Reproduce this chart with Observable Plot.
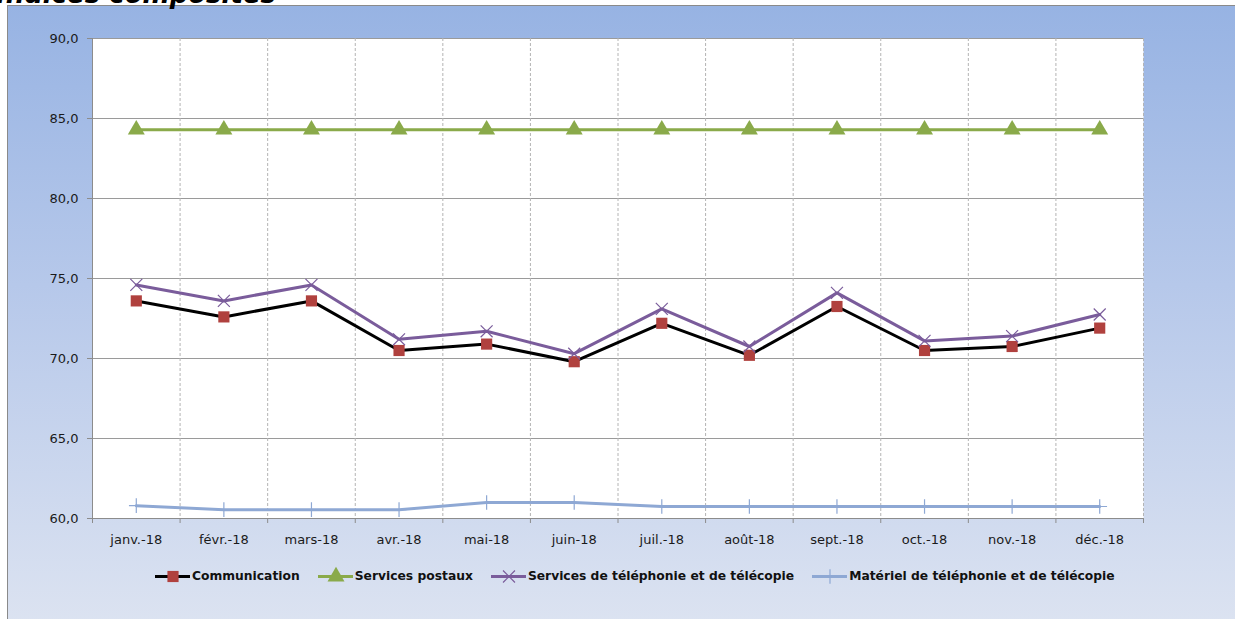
<!DOCTYPE html>
<html>
<head>
<meta charset="utf-8">
<script src="https://cdn.jsdelivr.net/npm/d3@7"></script>
<script src="https://cdn.jsdelivr.net/npm/@observablehq/plot@0.6"></script>
<style>
  html, body { margin: 0; padding: 0; background: #ffffff; width: 1235px; height: 619px; overflow: hidden; }
  #frame { position: absolute; left: 7px; top: 5px; width: 1240px; height: 620px;
    border-left: 1px solid #8a8a8a; border-top: 1px solid #8a8a8a;
    background: linear-gradient(to bottom, #97B3E3 0%, #B6C8EA 45%, #DCE3F1 100%); }
  #title { position: absolute; left: -4px; top: -19px; font-family: "DejaVu Sans", sans-serif; font-weight: bold;
    font-style: italic; font-size: 26px; line-height: 26px; color: #000; z-index: 5; white-space: nowrap; }
  #chart { position: absolute; left: 0; top: 0; }
  #legend { position: absolute; left: 155px; top: 569px; display: flex; align-items: center; gap: 18px;
    font-family: "DejaVu Sans", sans-serif; font-weight: bold; font-size: 12.3px; color: #111; white-space: nowrap; }
  .item { display: flex; align-items: center; }
  .item svg { margin-right: 2px; }
</style>
</head>
<body>
<div id="frame"></div>
<div id="title">Indices composites</div>
<div id="chart"></div>
<div id="legend"></div>
<script>
const months = ["janv.-18", "févr.-18", "mars-18", "avr.-18", "mai-18", "juin-18",
                "juil.-18", "août-18", "sept.-18", "oct.-18", "nov.-18", "déc.-18"];
const communication = [73.6, 72.6, 73.6, 70.5, 70.9, 69.8, 72.2, 70.2, 73.25, 70.5, 70.75, 71.9];
const servicesPostaux = [84.3, 84.3, 84.3, 84.3, 84.3, 84.3, 84.3, 84.3, 84.3, 84.3, 84.3, 84.3];
const servicesTelephonie = [74.6, 73.6, 74.6, 71.2, 71.7, 70.3, 73.1, 70.75, 74.1, 71.1, 71.4, 72.75];
const materielTelephonie = [60.8, 60.55, 60.55, 60.55, 61.0, 61.0, 60.75, 60.75, 60.75, 60.75, 60.75, 60.75];
const yTicks = [60, 65, 70, 75, 80, 85, 90];

const seriesDefs = [
  {name: "Communication", values: communication, line: "#000000", mark: "#B0413E", symbol: "square", r: 6.3, markStroke: null},
  {name: "Services postaux", values: servicesPostaux, line: "#8AAA4A", mark: "#8AAA4A", symbol: "triangle", r: 6.3, markStroke: null},
  {name: "Services de téléphonie et de télécopie", values: servicesTelephonie, line: "#7A5C9B", mark: "#7A5C9B", symbol: "times", r: 5.5, markStroke: "#7A5C9B"},
  {name: "Matériel de téléphonie et de télécopie", values: materielTelephonie, line: "#8EA8D4", mark: "#8EA8D4", symbol: "plus", r: 4.8, markStroke: "#8EA8D4"}
];

const rows = seriesDefs.flatMap(s => s.values.map((v, i) => ({series: s.name, i: i + 0.5, value: v})));

const boundaries = d3.range(0, 13);
const centers = months.map((m, i) => i + 0.5);

const marks = [
  Plot.frame({fill: "white", stroke: null}),
  Plot.ruleY(yTicks.filter(d => d > 60), {y: d => d, stroke: "#9a9a9a", strokeWidth: 1}),
  Plot.ruleX(boundaries.filter(d => d > 0), {x: d => d, stroke: "#b4b4b4", strokeDasharray: "3,2", strokeWidth: 1}),
  Plot.ruleX([0], {stroke: "#8c8c8c"}),
  Plot.ruleY([60], {stroke: "#8c8c8c"}),
  Plot.axisY({ticks: yTicks, tickFormat: d => d.toFixed(1).replace(".", ","), tickSize: 5, tickPadding: 9,
              stroke: "#8c8c8c", fill: "#1a1a1a", fontSize: 13, label: null}),
  Plot.axisX({ticks: boundaries, tickSize: 5, tickFormat: () => "", stroke: "#8c8c8c", label: null}),
  Plot.axisX({ticks: centers, tickSize: 0, tickPadding: 16, tickFormat: d => months[Math.floor(d)],
              fill: "#1a1a1a", fontSize: 13, label: null})
];

for (const s of seriesDefs) {
  const data = rows.filter(r => r.series === s.name);
  marks.push(Plot.line(data, {x: "i", y: "value", stroke: s.line, strokeWidth: 3, strokeLinejoin: "round"}));
}
for (const s of seriesDefs) {
  const data = rows.filter(r => r.series === s.name);
  if (s.markStroke) {
    marks.push(Plot.dot(data, {x: "i", y: "value", symbol: s.symbol, r: s.r, stroke: s.markStroke, strokeWidth: 1.2, fill: "none"}));
  } else {
    marks.push(Plot.dot(data, {x: "i", y: "value", symbol: s.symbol, r: s.r, fill: s.mark, stroke: null}));
  }
}

const chart = Plot.plot({
  width: 1235,
  height: 560,
  marginLeft: 92,
  marginRight: 92,
  marginTop: 38,
  marginBottom: 42,
  style: {background: "transparent", fontFamily: "DejaVu Sans, sans-serif", fontSize: "13px", color: "#1a1a1a"},
  x: {type: "linear", domain: [0, 12], axis: null},
  y: {domain: [60, 90], axis: null},
  marks
});
document.getElementById("chart").appendChild(chart);

// Legend
const legend = document.getElementById("legend");
for (const s of seriesDefs) {
  const item = document.createElement("div");
  item.className = "item";
  const sw = Plot.plot({
    width: 35, height: 14, margin: 0,
    style: {background: "transparent", overflow: "visible"},
    x: {type: "linear", domain: [0, 1], axis: null},
    y: {type: "linear", domain: [0, 1], axis: null},
    marks: [
      Plot.ruleY([0.5], {x1: 0, x2: 1, y: d => d, stroke: s.line, strokeWidth: 3}),
      s.markStroke
        ? Plot.dot([0.5], {x: d => d, y: () => 0.5, symbol: s.symbol, r: s.r, stroke: s.markStroke, strokeWidth: 1.2, fill: "none"})
        : Plot.dot([0.5], {x: d => d, y: () => 0.5, symbol: s.symbol, r: s.r, fill: s.mark, stroke: null})
    ]
  });
  item.appendChild(sw);
  const t = document.createElement("span");
  t.textContent = s.name;
  item.appendChild(t);
  legend.appendChild(item);
}
</script>
</body>
</html>
